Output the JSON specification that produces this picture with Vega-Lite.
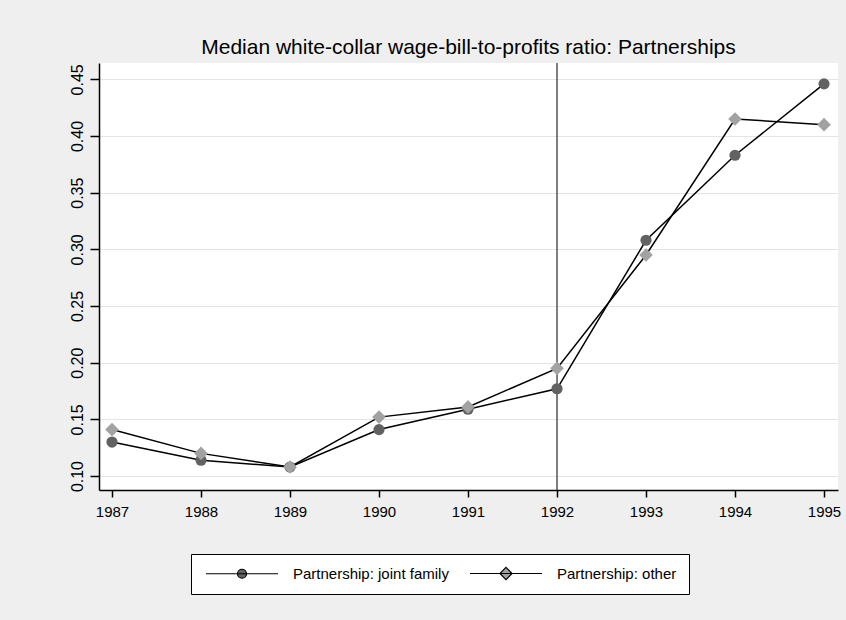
{
  "$schema": "https://vega.github.io/schema/vega-lite/v6.json",
  "width": 739,
  "height": 427,
  "autosize": {"type": "none"},
  "padding": {"left": 99, "top": 63, "right": 8, "bottom": 130},
  "background": "#efefef",
  "title": {
    "text": "Median white-collar wage-bill-to-profits ratio: Partnerships",
    "font": "Liberation Sans",
    "fontSize": 21,
    "fontWeight": "normal",
    "color": "black",
    "anchor": "middle",
    "offset": 4
  },
  "config": {
    "view": {"fill": "white", "stroke": null},
    "axis": {
      "labelFont": "Liberation Sans",
      "labelFontSize": 15,
      "labelColor": "black",
      "domainColor": "black",
      "domainWidth": 1.5,
      "tickColor": "black",
      "tickWidth": 1.5,
      "title": null
    },
    "legend": {
      "orient": "none",
      "legendX": 92,
      "legendY": 491,
      "direction": "horizontal",
      "strokeColor": "black",
      "fillColor": "white",
      "padding": 12,
      "labelFont": "Liberation Sans",
      "labelFontSize": 15,
      "labelColor": "black",
      "symbolSize": 81,
      "labelOffset": 75,
      "columnPadding": 18
    }
  },
  "datasets": {
    "main": [
      {"year": 1987, "series": "Partnership: joint family", "value": 0.130},
      {"year": 1988, "series": "Partnership: joint family", "value": 0.114},
      {"year": 1989, "series": "Partnership: joint family", "value": 0.108},
      {"year": 1990, "series": "Partnership: joint family", "value": 0.141},
      {"year": 1991, "series": "Partnership: joint family", "value": 0.159},
      {"year": 1992, "series": "Partnership: joint family", "value": 0.177},
      {"year": 1993, "series": "Partnership: joint family", "value": 0.308},
      {"year": 1994, "series": "Partnership: joint family", "value": 0.383},
      {"year": 1995, "series": "Partnership: joint family", "value": 0.446},
      {"year": 1987, "series": "Partnership: other", "value": 0.141},
      {"year": 1988, "series": "Partnership: other", "value": 0.120},
      {"year": 1989, "series": "Partnership: other", "value": 0.108},
      {"year": 1990, "series": "Partnership: other", "value": 0.152},
      {"year": 1991, "series": "Partnership: other", "value": 0.161},
      {"year": 1992, "series": "Partnership: other", "value": 0.195},
      {"year": 1993, "series": "Partnership: other", "value": 0.295},
      {"year": 1994, "series": "Partnership: other", "value": 0.415},
      {"year": 1995, "series": "Partnership: other", "value": 0.410}
    ],
    "ref": [{"year": 1992}]
  },
  "layer": [
    {
      "data": {"name": "ref"},
      "mark": {"type": "rule", "color": "#3a3a3a", "strokeWidth": 1.3},
      "encoding": {
        "x": {
          "field": "year",
          "type": "quantitative",
          "scale": {"domain": [1986.854, 1995.157], "nice": false, "zero": false},
          "axis": {"values": [1987, 1988, 1989, 1990, 1991, 1992, 1993, 1994, 1995], "format": "d", "grid": false, "tickSize": 7, "labelPadding": 7}
        }
      }
    },
    {
      "data": {"name": "main"},
      "mark": {"type": "line", "color": "black", "strokeWidth": 1.5},
      "encoding": {
        "x": {"field": "year", "type": "quantitative"},
        "y": {
          "field": "value",
          "type": "quantitative",
          "scale": {"domain": [0.0877, 0.4644], "nice": false, "zero": false},
          "axis": {
            "values": [0.1, 0.15, 0.2, 0.25, 0.3, 0.35, 0.4, 0.45],
            "format": ".2f",
            "grid": true,
            "gridColor": "#e4e4e4",
            "gridWidth": 1.2,
            "tickSize": 9,
            "labelPadding": 5,
            "labelFontSize": 16,
            "labelAngle": 270,
            "labelAlign": "center",
            "labelBaseline": "bottom"
          }
        },
        "detail": {"field": "series", "type": "nominal"}
      }
    },
    {
      "data": {"name": "main"},
      "mark": {"type": "point", "filled": true, "opacity": 1},
      "encoding": {
        "x": {"field": "year", "type": "quantitative"},
        "y": {"field": "value", "type": "quantitative"},
        "shape": {"field": "series", "type": "nominal", "scale": {"range": ["circle", "diamond"]}, "legend": null},
        "fill": {"field": "series", "type": "nominal", "scale": {"range": ["#626262", "#a2a2a2"]}, "legend": null},
        "size": {"field": "series", "type": "ordinal", "scale": {"range": [125, 185]}, "legend": null}
      }
    },
    {
      "data": {"name": "main"},
      "mark": {"type": "point", "filled": true, "opacity": 0},
      "encoding": {
        "x": {"field": "year", "type": "quantitative"},
        "y": {"field": "value", "type": "quantitative"},
        "shape": {
          "field": "series",
          "type": "nominal",
          "scale": {"range": ["M-1,0H15M8,0A1,1,0,1,1,6,0A1,1,0,1,1,8,0Z", "M-1,0H15M7,-1.35L8.35,0L7,1.35L5.65,0Z"]},
          "legend": {
            "title": null,
            "encode": {"symbols": {"update": {"stroke": {"value": "black"}, "strokeWidth": {"value": 1.2}, "opacity": {"value": 1}}}}
          }
        },
        "fill": {
          "field": "series",
          "type": "nominal",
          "scale": {"range": ["#626262", "#a2a2a2"]},
          "legend": {
            "title": null,
            "encode": {"symbols": {"update": {"stroke": {"value": "black"}, "strokeWidth": {"value": 1.2}, "opacity": {"value": 1}}}}
          }
        }
      }
    }
  ],
  "resolve": {"scale": {"shape": "independent", "fill": "independent", "size": "independent"}}
}
